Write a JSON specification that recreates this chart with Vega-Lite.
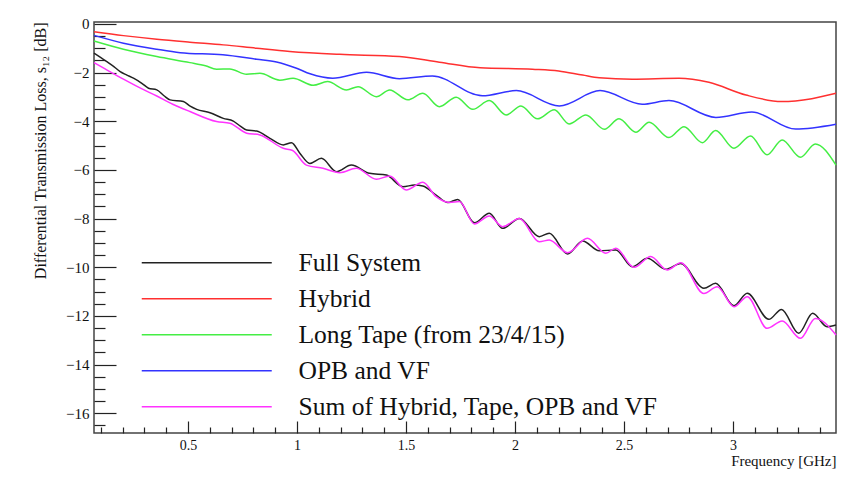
{
  "$schema": "https://vega.github.io/schema/vega-lite/v6.json",
  "width": 742,
  "height": 411,
  "autosize": "none",
  "padding": {"left": 94, "top": 22, "right": 10, "bottom": 50},
  "background": "white",
  "config": {
    "view": {"stroke": "#444444", "strokeWidth": 1.5},
    "font": "Liberation Serif"
  },
  "data": {
    "values": [
      {"s": "Full System", "f": 0.069, "v": -1.2},
      {"s": "Full System", "f": 0.128, "v": -1.55},
      {"s": "Full System", "f": 0.16, "v": -1.75},
      {"s": "Full System", "f": 0.189, "v": -1.96},
      {"s": "Full System", "f": 0.22, "v": -2.1},
      {"s": "Full System", "f": 0.25, "v": -2.23},
      {"s": "Full System", "f": 0.29, "v": -2.45},
      {"s": "Full System", "f": 0.319, "v": -2.64},
      {"s": "Full System", "f": 0.357, "v": -2.71},
      {"s": "Full System", "f": 0.39, "v": -2.95},
      {"s": "Full System", "f": 0.418, "v": -3.12},
      {"s": "Full System", "f": 0.479, "v": -3.19},
      {"s": "Full System", "f": 0.51, "v": -3.38},
      {"s": "Full System", "f": 0.54, "v": -3.51},
      {"s": "Full System", "f": 0.601, "v": -3.65},
      {"s": "Full System", "f": 0.662, "v": -3.88},
      {"s": "Full System", "f": 0.708, "v": -3.99},
      {"s": "Full System", "f": 0.74, "v": -4.2},
      {"s": "Full System", "f": 0.769, "v": -4.36},
      {"s": "Full System", "f": 0.815, "v": -4.4},
      {"s": "Full System", "f": 0.876, "v": -4.7},
      {"s": "Full System", "f": 0.937, "v": -4.97},
      {"s": "Full System", "f": 0.975, "v": -4.88},
      {"s": "Full System", "f": 1.013, "v": -5.31},
      {"s": "Full System", "f": 1.059, "v": -5.73},
      {"s": "Full System", "f": 1.112, "v": -5.52},
      {"s": "Full System", "f": 1.181, "v": -6.07},
      {"s": "Full System", "f": 1.249, "v": -5.8},
      {"s": "Full System", "f": 1.333, "v": -6.14},
      {"s": "Full System", "f": 1.41, "v": -6.21},
      {"s": "Full System", "f": 1.486, "v": -6.69},
      {"s": "Full System", "f": 1.539, "v": -6.62},
      {"s": "Full System", "f": 1.577, "v": -6.66},
      {"s": "Full System", "f": 1.638, "v": -7.03},
      {"s": "Full System", "f": 1.692, "v": -7.34},
      {"s": "Full System", "f": 1.737, "v": -7.21},
      {"s": "Full System", "f": 1.814, "v": -8.17},
      {"s": "Full System", "f": 1.882, "v": -7.78},
      {"s": "Full System", "f": 1.943, "v": -8.4},
      {"s": "Full System", "f": 2.02, "v": -7.99},
      {"s": "Full System", "f": 2.111, "v": -8.74},
      {"s": "Full System", "f": 2.157, "v": -8.6},
      {"s": "Full System", "f": 2.241, "v": -9.45},
      {"s": "Full System", "f": 2.31, "v": -8.92},
      {"s": "Full System", "f": 2.386, "v": -9.32},
      {"s": "Full System", "f": 2.462, "v": -9.29},
      {"s": "Full System", "f": 2.538, "v": -9.98},
      {"s": "Full System", "f": 2.607, "v": -9.63},
      {"s": "Full System", "f": 2.691, "v": -10.08},
      {"s": "Full System", "f": 2.76, "v": -9.84},
      {"s": "Full System", "f": 2.866, "v": -10.86},
      {"s": "Full System", "f": 2.92, "v": -10.66},
      {"s": "Full System", "f": 3.004, "v": -11.58},
      {"s": "Full System", "f": 3.065, "v": -11.07},
      {"s": "Full System", "f": 3.164, "v": -12.14},
      {"s": "Full System", "f": 3.222, "v": -11.73},
      {"s": "Full System", "f": 3.301, "v": -12.71},
      {"s": "Full System", "f": 3.365, "v": -11.89},
      {"s": "Full System", "f": 3.431, "v": -12.44},
      {"s": "Full System", "f": 3.472, "v": -12.37},

      {"s": "Hybrid", "f": 0.069, "v": -0.32},
      {"s": "Hybrid", "f": 0.204, "v": -0.48},
      {"s": "Hybrid", "f": 0.357, "v": -0.63},
      {"s": "Hybrid", "f": 0.509, "v": -0.75},
      {"s": "Hybrid", "f": 0.662, "v": -0.86},
      {"s": "Hybrid", "f": 0.815, "v": -1.0},
      {"s": "Hybrid", "f": 0.967, "v": -1.13},
      {"s": "Hybrid", "f": 1.196, "v": -1.25},
      {"s": "Hybrid", "f": 1.47, "v": -1.34},
      {"s": "Hybrid", "f": 1.653, "v": -1.57},
      {"s": "Hybrid", "f": 1.84, "v": -1.8},
      {"s": "Hybrid", "f": 2.08, "v": -1.86},
      {"s": "Hybrid", "f": 2.2, "v": -1.93},
      {"s": "Hybrid", "f": 2.31, "v": -2.1},
      {"s": "Hybrid", "f": 2.386, "v": -2.21},
      {"s": "Hybrid", "f": 2.537, "v": -2.27},
      {"s": "Hybrid", "f": 2.752, "v": -2.23},
      {"s": "Hybrid", "f": 2.889, "v": -2.4},
      {"s": "Hybrid", "f": 3.059, "v": -2.92},
      {"s": "Hybrid", "f": 3.223, "v": -3.19},
      {"s": "Hybrid", "f": 3.361, "v": -3.07},
      {"s": "Hybrid", "f": 3.472, "v": -2.85},

      {"s": "Long Tape (from 23/4/15)", "f": 0.069, "v": -0.7},
      {"s": "Long Tape (from 23/4/15)", "f": 0.204, "v": -1.04},
      {"s": "Long Tape (from 23/4/15)", "f": 0.357, "v": -1.34},
      {"s": "Long Tape (from 23/4/15)", "f": 0.509, "v": -1.59},
      {"s": "Long Tape (from 23/4/15)", "f": 0.58, "v": -1.72},
      {"s": "Long Tape (from 23/4/15)", "f": 0.631, "v": -1.86},
      {"s": "Long Tape (from 23/4/15)", "f": 0.692, "v": -1.85},
      {"s": "Long Tape (from 23/4/15)", "f": 0.769, "v": -2.07},
      {"s": "Long Tape (from 23/4/15)", "f": 0.83, "v": -2.03},
      {"s": "Long Tape (from 23/4/15)", "f": 0.921, "v": -2.31},
      {"s": "Long Tape (from 23/4/15)", "f": 0.982, "v": -2.23},
      {"s": "Long Tape (from 23/4/15)", "f": 1.074, "v": -2.52},
      {"s": "Long Tape (from 23/4/15)", "f": 1.14, "v": -2.37},
      {"s": "Long Tape (from 23/4/15)", "f": 1.227, "v": -2.71},
      {"s": "Long Tape (from 23/4/15)", "f": 1.28, "v": -2.58},
      {"s": "Long Tape (from 23/4/15)", "f": 1.364, "v": -2.99},
      {"s": "Long Tape (from 23/4/15)", "f": 1.425, "v": -2.71},
      {"s": "Long Tape (from 23/4/15)", "f": 1.508, "v": -3.12},
      {"s": "Long Tape (from 23/4/15)", "f": 1.577, "v": -2.85},
      {"s": "Long Tape (from 23/4/15)", "f": 1.653, "v": -3.4},
      {"s": "Long Tape (from 23/4/15)", "f": 1.73, "v": -3.01},
      {"s": "Long Tape (from 23/4/15)", "f": 1.806, "v": -3.51},
      {"s": "Long Tape (from 23/4/15)", "f": 1.882, "v": -3.15},
      {"s": "Long Tape (from 23/4/15)", "f": 1.959, "v": -3.74},
      {"s": "Long Tape (from 23/4/15)", "f": 2.027, "v": -3.37},
      {"s": "Long Tape (from 23/4/15)", "f": 2.103, "v": -3.9},
      {"s": "Long Tape (from 23/4/15)", "f": 2.18, "v": -3.53},
      {"s": "Long Tape (from 23/4/15)", "f": 2.248, "v": -4.11},
      {"s": "Long Tape (from 23/4/15)", "f": 2.325, "v": -3.74},
      {"s": "Long Tape (from 23/4/15)", "f": 2.41, "v": -4.33},
      {"s": "Long Tape (from 23/4/15)", "f": 2.477, "v": -3.9},
      {"s": "Long Tape (from 23/4/15)", "f": 2.554, "v": -4.45},
      {"s": "Long Tape (from 23/4/15)", "f": 2.615, "v": -4.04},
      {"s": "Long Tape (from 23/4/15)", "f": 2.706, "v": -4.67},
      {"s": "Long Tape (from 23/4/15)", "f": 2.775, "v": -4.22},
      {"s": "Long Tape (from 23/4/15)", "f": 2.859, "v": -4.88},
      {"s": "Long Tape (from 23/4/15)", "f": 2.92, "v": -4.38},
      {"s": "Long Tape (from 23/4/15)", "f": 3.004, "v": -5.11},
      {"s": "Long Tape (from 23/4/15)", "f": 3.08, "v": -4.6},
      {"s": "Long Tape (from 23/4/15)", "f": 3.156, "v": -5.38},
      {"s": "Long Tape (from 23/4/15)", "f": 3.225, "v": -4.77},
      {"s": "Long Tape (from 23/4/15)", "f": 3.309, "v": -5.48},
      {"s": "Long Tape (from 23/4/15)", "f": 3.377, "v": -4.93},
      {"s": "Long Tape (from 23/4/15)", "f": 3.472, "v": -5.8},

      {"s": "OPB and VF", "f": 0.069, "v": -0.47},
      {"s": "OPB and VF", "f": 0.204, "v": -0.79},
      {"s": "OPB and VF", "f": 0.357, "v": -1.04},
      {"s": "OPB and VF", "f": 0.464, "v": -1.18},
      {"s": "OPB and VF", "f": 0.66, "v": -1.27},
      {"s": "OPB and VF", "f": 0.815, "v": -1.45},
      {"s": "OPB and VF", "f": 0.906, "v": -1.56},
      {"s": "OPB and VF", "f": 0.998, "v": -1.82},
      {"s": "OPB and VF", "f": 1.06, "v": -2.05},
      {"s": "OPB and VF", "f": 1.164, "v": -2.23},
      {"s": "OPB and VF", "f": 1.319, "v": -1.99},
      {"s": "OPB and VF", "f": 1.47, "v": -2.25},
      {"s": "OPB and VF", "f": 1.621, "v": -2.14},
      {"s": "OPB and VF", "f": 1.85, "v": -2.95},
      {"s": "OPB and VF", "f": 2.006, "v": -2.74},
      {"s": "OPB and VF", "f": 2.203, "v": -3.37},
      {"s": "OPB and VF", "f": 2.39, "v": -2.74},
      {"s": "OPB and VF", "f": 2.583, "v": -3.3},
      {"s": "OPB and VF", "f": 2.706, "v": -3.15},
      {"s": "OPB and VF", "f": 2.921, "v": -3.84},
      {"s": "OPB and VF", "f": 3.086, "v": -3.62},
      {"s": "OPB and VF", "f": 3.287, "v": -4.32},
      {"s": "OPB and VF", "f": 3.472, "v": -4.12},

      {"s": "Sum of Hybrid, Tape, OPB and VF", "f": 0.069, "v": -1.59},
      {"s": "Sum of Hybrid, Tape, OPB and VF", "f": 0.12, "v": -1.85},
      {"s": "Sum of Hybrid, Tape, OPB and VF", "f": 0.204, "v": -2.27},
      {"s": "Sum of Hybrid, Tape, OPB and VF", "f": 0.28, "v": -2.63},
      {"s": "Sum of Hybrid, Tape, OPB and VF", "f": 0.357, "v": -2.96},
      {"s": "Sum of Hybrid, Tape, OPB and VF", "f": 0.43, "v": -3.3},
      {"s": "Sum of Hybrid, Tape, OPB and VF", "f": 0.509, "v": -3.6},
      {"s": "Sum of Hybrid, Tape, OPB and VF", "f": 0.631, "v": -4.01},
      {"s": "Sum of Hybrid, Tape, OPB and VF", "f": 0.692, "v": -4.08},
      {"s": "Sum of Hybrid, Tape, OPB and VF", "f": 0.769, "v": -4.49},
      {"s": "Sum of Hybrid, Tape, OPB and VF", "f": 0.83, "v": -4.56},
      {"s": "Sum of Hybrid, Tape, OPB and VF", "f": 0.937, "v": -5.11},
      {"s": "Sum of Hybrid, Tape, OPB and VF", "f": 0.98, "v": -5.2},
      {"s": "Sum of Hybrid, Tape, OPB and VF", "f": 1.043, "v": -5.8},
      {"s": "Sum of Hybrid, Tape, OPB and VF", "f": 1.119, "v": -5.93},
      {"s": "Sum of Hybrid, Tape, OPB and VF", "f": 1.196, "v": -6.11},
      {"s": "Sum of Hybrid, Tape, OPB and VF", "f": 1.272, "v": -5.93},
      {"s": "Sum of Hybrid, Tape, OPB and VF", "f": 1.364, "v": -6.38},
      {"s": "Sum of Hybrid, Tape, OPB and VF", "f": 1.425, "v": -6.25},
      {"s": "Sum of Hybrid, Tape, OPB and VF", "f": 1.501, "v": -6.82},
      {"s": "Sum of Hybrid, Tape, OPB and VF", "f": 1.577, "v": -6.51},
      {"s": "Sum of Hybrid, Tape, OPB and VF", "f": 1.638, "v": -7.1},
      {"s": "Sum of Hybrid, Tape, OPB and VF", "f": 1.699, "v": -7.34},
      {"s": "Sum of Hybrid, Tape, OPB and VF", "f": 1.745, "v": -7.3},
      {"s": "Sum of Hybrid, Tape, OPB and VF", "f": 1.814, "v": -8.22},
      {"s": "Sum of Hybrid, Tape, OPB and VF", "f": 1.882, "v": -7.89},
      {"s": "Sum of Hybrid, Tape, OPB and VF", "f": 1.943, "v": -8.33},
      {"s": "Sum of Hybrid, Tape, OPB and VF", "f": 2.02, "v": -7.99},
      {"s": "Sum of Hybrid, Tape, OPB and VF", "f": 2.111, "v": -8.95},
      {"s": "Sum of Hybrid, Tape, OPB and VF", "f": 2.157, "v": -8.88},
      {"s": "Sum of Hybrid, Tape, OPB and VF", "f": 2.241, "v": -9.4},
      {"s": "Sum of Hybrid, Tape, OPB and VF", "f": 2.332, "v": -8.81},
      {"s": "Sum of Hybrid, Tape, OPB and VF", "f": 2.416, "v": -9.42},
      {"s": "Sum of Hybrid, Tape, OPB and VF", "f": 2.462, "v": -9.22},
      {"s": "Sum of Hybrid, Tape, OPB and VF", "f": 2.546, "v": -10.0},
      {"s": "Sum of Hybrid, Tape, OPB and VF", "f": 2.622, "v": -9.56},
      {"s": "Sum of Hybrid, Tape, OPB and VF", "f": 2.698, "v": -10.11},
      {"s": "Sum of Hybrid, Tape, OPB and VF", "f": 2.76, "v": -9.81},
      {"s": "Sum of Hybrid, Tape, OPB and VF", "f": 2.866, "v": -11.08},
      {"s": "Sum of Hybrid, Tape, OPB and VF", "f": 2.927, "v": -10.8},
      {"s": "Sum of Hybrid, Tape, OPB and VF", "f": 3.004, "v": -11.62},
      {"s": "Sum of Hybrid, Tape, OPB and VF", "f": 3.065, "v": -11.21},
      {"s": "Sum of Hybrid, Tape, OPB and VF", "f": 3.156, "v": -12.51},
      {"s": "Sum of Hybrid, Tape, OPB and VF", "f": 3.225, "v": -12.21},
      {"s": "Sum of Hybrid, Tape, OPB and VF", "f": 3.309, "v": -12.92},
      {"s": "Sum of Hybrid, Tape, OPB and VF", "f": 3.377, "v": -12.1},
      {"s": "Sum of Hybrid, Tape, OPB and VF", "f": 3.472, "v": -12.78}
    ]
  },
  "layer": [
    {
      "mark": {"type": "line", "interpolate": "monotone", "strokeWidth": 1.5},
      "encoding": {
        "x": {
          "field": "f", "type": "quantitative",
          "scale": {"domain": [0.069, 3.472], "nice": false, "zero": false},
          "axis": {
            "orient": "bottom",
            "values": [0.5, 1, 1.5, 2, 2.5, 3],
            "format": "~g",
            "tickSize": -12, "tickColor": "#222222", "tickWidth": 1.2,
            "domain": false, "grid": false,
            "labelFont": "Liberation Serif", "labelFontSize": 14, "labelColor": "#111111",
            "labelPadding": 17,
            "title": "Frequency [GHz]", "titleAnchor": "end",
            "titleFont": "Liberation Serif", "titleFontSize": 15, "titleFontWeight": "normal",
            "titleColor": "#111111", "titlePadding": 1
          }
        },
        "y": {
          "field": "v", "type": "quantitative",
          "scale": {"domain": [-16.81, 0.08], "nice": false, "zero": false},
          "axis": {
            "orient": "left",
            "values": [-16, -14, -12, -10, -8, -6, -4, -2, 0],
            "format": "d",
            "tickSize": -22, "tickColor": "#222222", "tickWidth": 1.2,
            "domain": false, "grid": false,
            "labelFont": "Liberation Serif", "labelFontSize": 15, "labelColor": "#111111",
            "labelPadding": 27,
            "title": "Differential Transmission Loss, s₁₂ [dB]", "titleAnchor": "end",
            "titleFont": "Liberation Serif", "titleFontSize": 16, "titleFontWeight": "normal",
            "titleColor": "#111111", "titlePadding": 17
          }
        },
        "color": {
          "field": "s", "type": "nominal",
          "scale": {
            "domain": ["Full System", "Hybrid", "Long Tape (from 23/4/15)", "OPB and VF", "Sum of Hybrid, Tape, OPB and VF"],
            "range": ["#222222", "#ff3030", "#44ee44", "#3333ff", "#ff33ff"]
          },
          "legend": {
            "orient": "none", "legendX": 100, "legendY": 228,
            "title": null, "padding": 0,
            "symbolType": "M -6.5 0 L 6.5 0", "symbolSize": 400, "symbolStrokeWidth": 1.5,
            "symbolFillColor": "transparent",
            "labelFont": "Liberation Serif", "labelFontSize": 25.5, "labelColor": "#111111",
            "labelOffset": 79, "labelLimit": 600, "rowPadding": 9
          }
        }
      }
    },
    {
      "mark": {"type": "point", "opacity": 0},
      "encoding": {
        "x": {
          "field": "f", "type": "quantitative",
          "axis": {
            "orient": "bottom",
            "values": [0.1, 0.2, 0.3, 0.4, 0.6, 0.7, 0.8, 0.9, 1.1, 1.2, 1.3, 1.4, 1.6, 1.7, 1.8, 1.9, 2.1, 2.2, 2.3, 2.4, 2.6, 2.7, 2.8, 2.9, 3.1, 3.2, 3.3, 3.4],
            "labels": false, "tickSize": -6, "tickColor": "#222222", "tickWidth": 1.2,
            "domain": false, "grid": false, "title": null
          }
        },
        "y": {
          "field": "v", "type": "quantitative",
          "axis": {
            "orient": "left",
            "values": [-16.5, -15.5, -15, -14.5, -13.5, -13, -12.5, -11.5, -11, -10.5, -9.5, -9, -8.5, -7.5, -7, -6.5, -5.5, -5, -4.5, -3.5, -3, -2.5, -1.5, -1, -0.5],
            "labels": false, "tickSize": -11, "tickColor": "#222222", "tickWidth": 1.2,
            "domain": false, "grid": false, "title": null
          }
        }
      }
    }
  ],
  "resolve": {"axis": {"x": "independent", "y": "independent"}}
}
